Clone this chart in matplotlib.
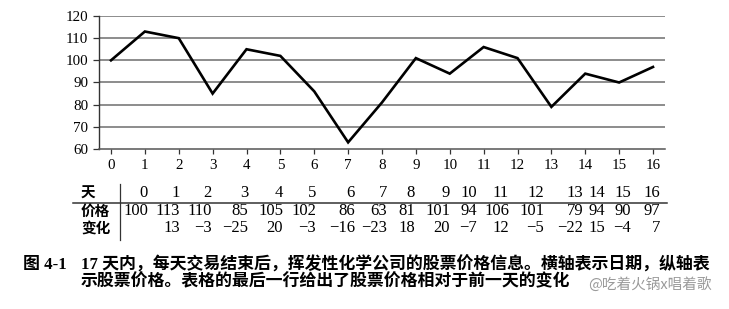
import matplotlib
matplotlib.use("Agg")
import matplotlib.pyplot as plt
from matplotlib.lines import Line2D

# data
days = list(range(17))
prices = [100, 113, 110, 85, 105, 102, 86, 63, 81, 101, 94, 106, 101, 79, 94, 90, 97]
changes = [None, 13, -3, -25, 20, -3, -16, -23, 18, 20, -7, 12, -5, -22, 15, -4, 7]
y_ticks = [60, 70, 80, 90, 100, 110, 120]
row_labels = ["天", "价格", "变化"]
caption_1 = "17 天内，每天交易结束后，挥发性化学公司的股票价格信息。横轴表示日期，纵轴表"
caption_2 = "示股票价格。表格的最后一行给出了股票价格相对于前一天的变化"
watermark = "@吃着火锅x唱着歌"

# right edges (px) of the table columns, the table is typeset unevenly
col_right = [148, 180, 212, 248, 283, 316, 355, 387, 415, 450, 477, 509, 544, 583, 605, 631, 660]

W, H = 729, 309
SERIF = ["Liberation Serif", "Noto Sans CJK SC"]
CJK = ["Noto Sans CJK SC", "DejaVu Sans"]


def fx(x):
    return x / W


def fy(y):
    return 1 - y / H


fig = plt.figure(figsize=(W / 100, H / 100), dpi=100)
ax = fig.add_axes([fx(99), fy(149), fx(665 - 99), (149 - 16) / H])

ax.plot(days, prices, color="black", lw=1.9, solid_joinstyle="miter", zorder=3)
for v in y_ticks[1:]:
    ax.axhline(v, color="#6e6e6e", lw=1.1, zorder=1)

ax.set_xlim(-12 / 33.875, 16 + 12 / 33.875)
ax.set_ylim(60, 120)
ax.set_xticks(days)
ax.set_yticks(y_ticks)
for s in ["top", "right"]:
    ax.spines[s].set_visible(False)
ax.spines["left"].set_color("#333333")
ax.spines["bottom"].set_color("#555555")
ax.spines["left"].set_linewidth(1.0)
ax.spines["bottom"].set_linewidth(1.1)
ax.tick_params(axis="y", length=4.3, width=0.9, pad=3.5, color="#333333")
ax.tick_params(axis="x", length=3.6, width=0.9, pad=3.5, color="#333333")
for lab in ax.get_xticklabels() + ax.get_yticklabels():
    lab.set_family(SERIF)
    lab.set_fontsize(10.8)

# table under the chart
row_y = [193, 211, 228]
for lab, y in zip(row_labels, row_y):
    fig.text(fx(81), fy(y), lab, family=CJK, fontsize=10.5, fontweight="bold",
             ha="left", va="center")
for i, r in enumerate(col_right):
    fig.text(fx(r), fy(row_y[0]), str(days[i]), family=SERIF, fontsize=12,
             ha="right", va="center")
    fig.text(fx(r), fy(row_y[1]), str(prices[i]), family=SERIF, fontsize=12,
             ha="right", va="center")
    if changes[i] is not None:
        txt = str(changes[i]).replace("-", "\u2212")
        fig.text(fx(r), fy(row_y[2]), txt, family=SERIF, fontsize=12,
                 ha="right", va="center")

fig.add_artist(Line2D([fx(73), fx(667)], [fy(202.5), fy(202.5)],
                      color="#333333", lw=1.1))
fig.add_artist(Line2D([fx(120), fx(120)], [fy(184), fy(240)],
                      color="#333333", lw=0.9))

# caption
fig.text(fx(23), fy(265), "图 4-1", family=SERIF, fontsize=12.2,
         fontweight="bold", ha="left", va="center")
fig.text(fx(81), fy(265), caption_1, family=SERIF, fontsize=12.2,
         fontweight="bold", ha="left", va="center")
fig.text(fx(81), fy(282), caption_2, family=SERIF, fontsize=12.2,
         fontweight="bold", ha="left", va="center")

# watermark
fig.text(fx(712), fy(284), watermark, family=CJK, fontsize=10.5,
         color="#9a9a9a", ha="right", va="center")

fig.savefig("out.png", dpi=100)
